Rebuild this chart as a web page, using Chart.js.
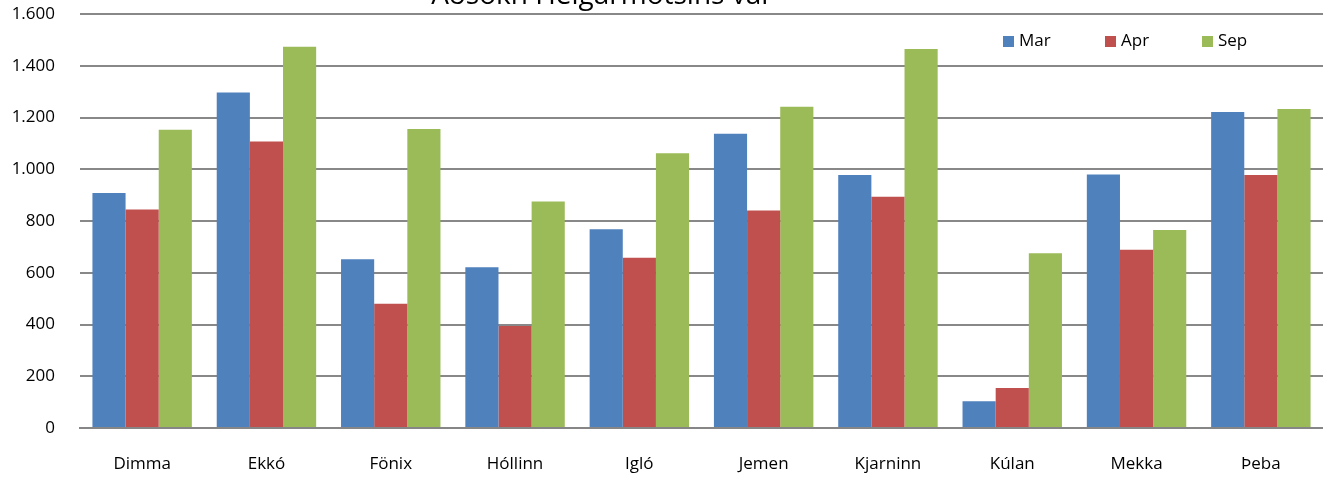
<!DOCTYPE html>
<html>
<head>
<meta charset="utf-8">
<script src="https://cdn.jsdelivr.net/npm/chart.js@4"></script>
<style>
  html, body { margin: 0; padding: 0; background: #fff; overflow: hidden; }
  #wrap { position: relative; width: 1323px; height: 477px; }
</style>
</head>
<body>
<div id="wrap"><canvas id="c" width="1323" height="477"></canvas></div>
<script>
const categories = ["Dimma", "Ekkó", "Fönix", "Hóllinn", "Igló", "Jemen", "Kjarninn", "Kúlan", "Mekka", "Þeba"];
const seriesNames = ["Mar", "Apr", "Sep"];
const marValues = [908, 1297, 652, 621, 768, 1137, 978, 103, 980, 1221];
const aprValues = [844, 1107, 480, 394, 658, 841, 894, 155, 689, 978];
const sepValues = [1153, 1473, 1156, 875, 1062, 1242, 1465, 675, 765, 1233];
const yTicks = [0, 200, 400, 600, 800, 1000, 1200, 1400, 1600];
const titleText = "Aðsókn Helgarmótsins var";

const colors = ["#4F81BD", "#C0504D", "#9BBB59"];
const FONT = "'Open Sans', Lato, sans-serif";

function fmt(v) {
  return v.toString().replace(/\B(?=(\d{3})+(?!\d))/g, ".");
}

const overlay = {
  id: "overlay",
  afterDraw(chart) {
    const ctx = chart.ctx;
    ctx.save();
    // cropped title at very top
    ctx.font = "28px " + FONT;
    ctx.fillStyle = "#000";
    ctx.textAlign = "center";
    ctx.textBaseline = "alphabetic";
    ctx.fillText(titleText, 602, 4);
    // legend inside plot area
    ctx.font = "17px " + FONT;
    ctx.textAlign = "left";
    ctx.textBaseline = "middle";
    const xs = [1003, 1105, 1202];
    chart.data.datasets.forEach((ds, i) => {
      ctx.fillStyle = ds.backgroundColor;
      ctx.fillRect(xs[i], 36, 11, 11);
      ctx.fillStyle = "#000";
      ctx.fillText(ds.label, xs[i] + 16, 41);
    });
    ctx.restore();
  }
};

new Chart(document.getElementById("c"), {
  type: "bar",
  data: {
    labels: categories,
    datasets: [
      { label: seriesNames[0], data: marValues, backgroundColor: colors[0] },
      { label: seriesNames[1], data: aprValues, backgroundColor: colors[1] },
      { label: seriesNames[2], data: sepValues, backgroundColor: colors[2] }
    ]
  },
  options: {
    responsive: false,
    animation: false,
    devicePixelRatio: 1,
    layout: { padding: { top: 14, right: 0, left: 0, bottom: 0 } },
    datasets: { bar: { categoryPercentage: 0.8, barPercentage: 1.0 } },
    plugins: {
      legend: { display: false },
      title: { display: false },
      tooltip: { enabled: false }
    },
    scales: {
      x: {
        grid: { display: false, drawTicks: false },
        border: { display: true, color: "#868686", width: 2 },
        ticks: { color: "#000", font: { family: FONT, size: 17 }, padding: 26, maxRotation: 0 },
        afterFit(s) { s.height = 49; s.paddingLeft = 0; s.paddingRight = 0; }
      },
      y: {
        min: 0, max: 1600,
        afterBuildTicks(s) { s.ticks = yTicks.map(v => ({ value: v })); },
        grid: { color: "#888888", lineWidth: 2, drawTicks: false },
        border: { display: false },
        ticks: { color: "#000", font: { family: FONT, size: 17 }, padding: 25, callback: v => fmt(v) },
        afterFit(s) { s.width = 80; s.paddingTop = 0; s.paddingBottom = 0; }
      }
    }
  },
  plugins: [overlay]
});
</script>
</body>
</html>
